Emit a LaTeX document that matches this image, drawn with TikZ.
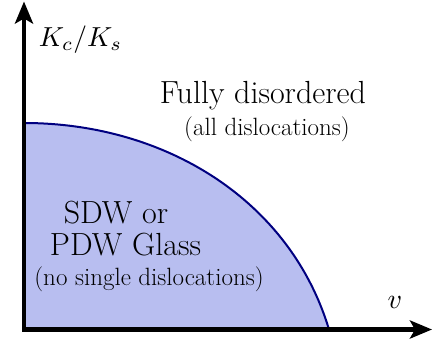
\documentclass[tikz,border=0pt]{standalone}
\usepackage{fontspec}
\usepackage{graphicx}
\usetikzlibrary{arrows.meta}
\definecolor{regionfill}{RGB}{184,190,240}
\definecolor{regionline}{RGB}{0,0,128}
\tikzset{
  axisline/.style={line width=4.3pt, line join=miter,
    {Stealth[length=22pt,width=18pt,inset=5pt]}-{Stealth[length=22pt,width=18pt,inset=5pt]}},
  boundary/.style={regionline, line width=2pt},
  bigtext/.style={font=\fontsize{32}{38}\selectfont, anchor=base, inner sep=0pt},
  smalltext/.style={font=\fontsize{25}{30}\selectfont, anchor=base, inner sep=0pt},
  mathlabel/.style={anchor=base, inner sep=0pt},
}
\begin{document}
\begin{tikzpicture}[x=1pt,y=-1pt]
\useasboundingbox (0,0) rectangle (433,345);
\coordinate (O) at (24,329.5);
\coordinate (top) at (24,1.5);
\coordinate (right) at (432,329.5);
\coordinate (A) at (24,123);
\coordinate (B) at (329,329.5);
\fill[regionfill] (O) -- (A) .. controls (165,123) and (290,200) .. (B) -- cycle;
\draw[boundary] (A) .. controls (165,123) and (290,200) .. (B);
\draw[axisline] (top) -- (O) -- (right);
\node[mathlabel] (ylab) at (80.5,46) {\scalebox{2.75}{$K_c/K_s$}};
\node[mathlabel] (xlab) at (395,308) {\scalebox{2.8}{$v$}};
\node[bigtext] (dis) at (263,103) {Fully disordered};
\node[smalltext] (dissub) at (267,135) {(all dislocations)};
\node[bigtext] (sdw) at (116,223) {SDW or};
\node[bigtext] (pdw) at (125.5,255) {PDW Glass};
\node[smalltext] (glasssub) at (149,285) {(no single dislocations)};
\end{tikzpicture}
\end{document}
